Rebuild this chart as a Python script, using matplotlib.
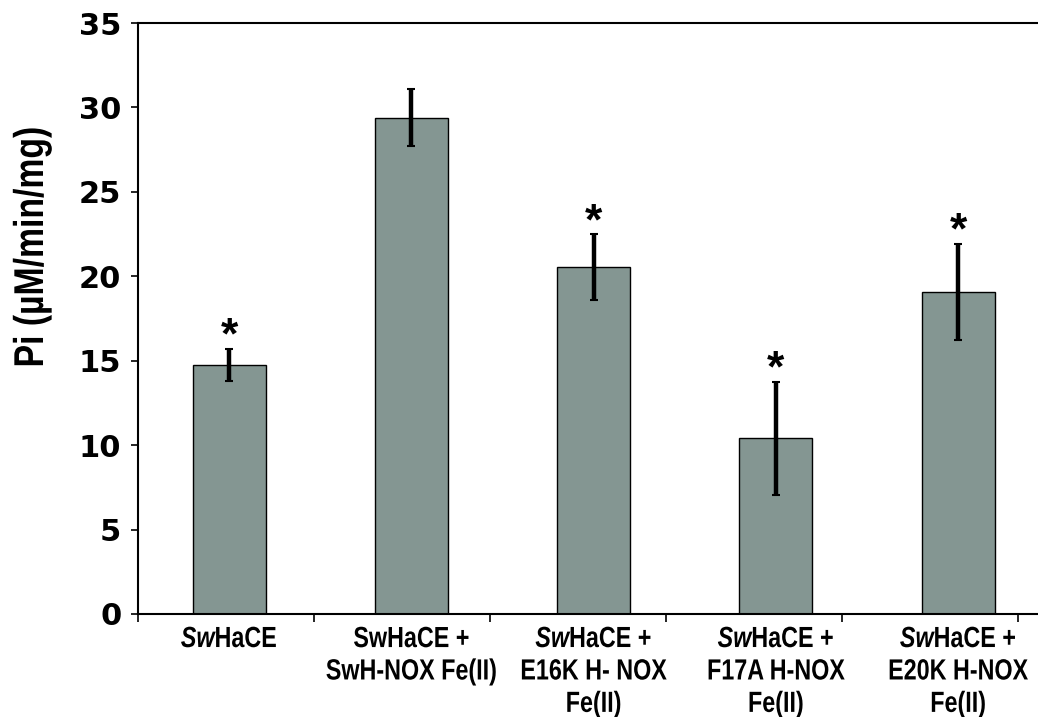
import numpy as np
import matplotlib
matplotlib.use("Agg")
import matplotlib.pyplot as plt
from matplotlib.patheffects import AbstractPathEffect
from matplotlib.transforms import Affine2D

# values
labels = [
    r"$\mathit{Sw}$HaCE",
    "SwHaCE +\nSwH-NOX Fe(II)",
    "$\\mathit{Sw}$HaCE +\nE16K H- NOX\nFe(II)",
    "$\\mathit{Sw}$HaCE +\nF17A H-NOX\nFe(II)",
    "$\\mathit{Sw}$HaCE +\nE20K H-NOX\nFe(II)",
]
means = [14.75, 29.4, 20.55, 10.4, 19.07]
errors = [0.95, 1.7, 1.93, 3.35, 2.87]
significant = [True, False, True, True, True]
yticks = [0, 5, 10, 15, 20, 25, 30, 35]


class Squeeze(AbstractPathEffect):
    """narrow the glyphs (no Arial Narrow here) around a fixed display point"""

    def __init__(self, cx, cy, sx=1.0, sy=1.0):
        super().__init__()
        self.t = Affine2D().translate(-cx, -cy).scale(sx, sy).translate(cx, cy)

    def draw_path(self, renderer, gc, tpath, affine, rgbFace=None):
        renderer.draw_path(gc, tpath, affine + self.t, rgbFace)


plt.rcParams["font.family"] = ["Liberation Sans", "DejaVu Sans"]
plt.rcParams["mathtext.fontset"] = "custom"
plt.rcParams["mathtext.it"] = "Liberation Sans:italic:bold"
plt.rcParams["mathtext.rm"] = "Liberation Sans:bold"

fig = plt.figure(figsize=(10.38, 7.17), dpi=100)
ax = fig.add_axes([0.1329, 0.1437, 0.8671, 0.8242])

x = np.arange(len(means))
ax.bar(x, means, width=0.40, color="#849692", edgecolor="black", linewidth=1.0, zorder=2)
ax.errorbar(x, means, yerr=errors, fmt="none", ecolor="black",
            elinewidth=3.2, capsize=3, capthick=1.5, zorder=3)

for xi, m, e, s in zip(x, means, errors, significant):
    if s:
        ax.annotate("*", xy=(xi, m + e), xytext=(0, 0), textcoords="offset points",
                    ha="center", va="baseline", fontsize=32, fontweight="bold")

ax.set_xlim(-0.499, 4.438)
ax.set_ylim(0, 35)

# tick marks on x sit on their own grid, labels go under the bars
ax.set_xticks(np.linspace(-0.5, 4.33, 6))
ax.set_xticklabels([])
ax.tick_params(axis="x", direction="out", length=6, width=1.2)

ax.set_yticks(yticks)
ax.set_yticklabels([str(v) for v in yticks], family="DejaVu Sans",
                   fontsize=22, fontweight="bold")
ax.tick_params(axis="y", direction="out", length=5, width=1.2, pad=7)

ax.spines["right"].set_visible(False)
for side in ["left", "bottom", "top"]:
    ax.spines[side].set_linewidth(1.5)

for xi, lab in zip(x, labels):
    cx = ax.transData.transform((xi, 0))[0]
    ax.annotate(lab, xy=(xi, 0), xycoords=("data", "axes fraction"),
                xytext=(0, -8), textcoords="offset points",
                ha="center", va="top", fontsize=21, fontweight="bold",
                linespacing=1.2, multialignment="center",
                path_effects=[Squeeze(cx, 0, sx=0.8)])

ylx, yly = 32, 717 - 247
fig.text(ylx / 1038, yly / 717, "Pi (\u00b5M/min/mg)", rotation=90,
         ha="center", va="center", fontsize=30, fontweight="bold",
         path_effects=[Squeeze(ylx, yly, sy=0.81)])

fig.savefig("out.png", dpi=100)
